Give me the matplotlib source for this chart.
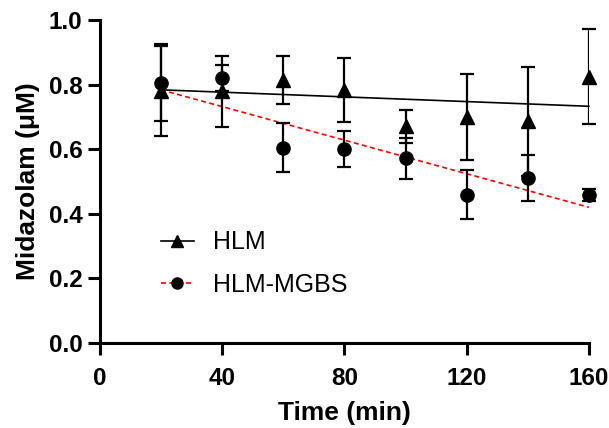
import matplotlib
matplotlib.use("Agg")
import matplotlib.pyplot as plt

plt.rcParams['font.family'] = ['Liberation Sans', 'DejaVu Sans']

# data
time = [20, 40, 60, 80, 100, 120, 140, 160]
hlm = [0.78, 0.78, 0.815, 0.784, 0.671, 0.70, 0.686, 0.825]
hlm_err = [0.14, 0.11, 0.075, 0.10, 0.052, 0.134, 0.17, 0.146]
mgbs = [0.806, 0.82, 0.604, 0.60, 0.572, 0.459, 0.51, 0.458]
mgbs_err = [0.12, 0.04, 0.076, 0.055, 0.063, 0.075, 0.071, 0.018]

# regression lines (end points)
fit_x = [20, 160]
hlm_fit = [0.784, 0.733]
mgbs_fit = [0.784, 0.42]

fig = plt.figure(figsize=(6.09, 4.28), dpi=100)
ax = fig.add_axes([0.164, 0.199, 0.803, 0.754])

ax.errorbar(time, hlm, yerr=hlm_err, fmt='^', color='black', markersize=9.5,
            elinewidth=1.6, capsize=5, capthick=1.6, zorder=3)
ax.errorbar(time, mgbs, yerr=mgbs_err, fmt='o', color='black', markersize=9.5,
            elinewidth=1.6, capsize=5, capthick=1.6, zorder=3)
ax.plot(fit_x, hlm_fit, color='black', linewidth=1.2, zorder=2)
ax.plot(fit_x, mgbs_fit, color='red', linestyle=(0, (3, 2)), linewidth=1.2, zorder=2)

# legend handles
h1, = ax.plot([], [], color='black', linewidth=1.2, marker='^', markersize=8)
h2, = ax.plot([], [], color='red', linestyle=(0, (3, 2)), linewidth=1.2,
              marker='o', markersize=8, markerfacecolor='black', markeredgecolor='black')
ax.legend([h1, h2], ['HLM', 'HLM-MGBS'], loc='upper left', bbox_to_anchor=(0.078, 0.418),
          frameon=False, fontsize=18, handlelength=1.35, handletextpad=0.75,
          labelspacing=0.75)

ax.set_xlim(0, 160)
ax.set_ylim(0, 1.0)
ax.set_xticks([0, 40, 80, 120, 160])
ax.set_yticks([0.0, 0.2, 0.4, 0.6, 0.8, 1.0])
ax.set_yticklabels(['0.0', '0.2', '0.4', '0.6', '0.8', '1.0'])

for s in ['top', 'right']:
    ax.spines[s].set_visible(False)
for s in ['left', 'bottom']:
    ax.spines[s].set_linewidth(2.2)
ax.tick_params(width=2.2, length=8.5, labelsize=17.5, pad=4)
ax.tick_params(axis='x', pad=9)
for lab in ax.get_xticklabels() + ax.get_yticklabels():
    lab.set_fontweight('bold')

ax.set_xlabel('Time (min)', fontsize=19, fontweight='bold', labelpad=8)
ax.set_ylabel('Midazolam (\u03bcM)', fontsize=19, fontweight='bold', labelpad=6)

for sp in ax.spines.values():
    sp.set_clip_on(False)
for line in ax.lines:
    line.set_clip_on(False)

fig.savefig('out.png', dpi=100)
